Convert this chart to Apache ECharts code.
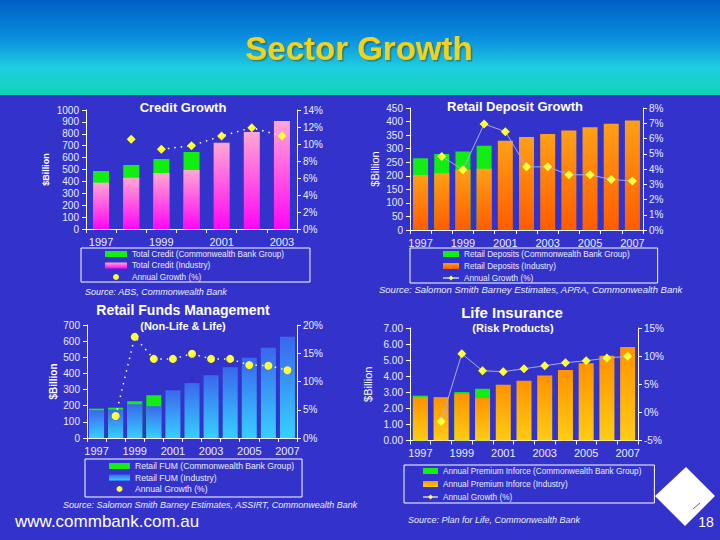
<!DOCTYPE html>
<html><head><meta charset="utf-8">
<script src="https://cdn.jsdelivr.net/npm/echarts@6/dist/echarts.min.js"></script>
<style>html,body{margin:0;padding:0;background:#3333cc}#c{width:720px;height:540px}</style>
</head><body><div id="c"></div>
<script>
// ---------- Credit Growth ----------
const creditYears = ['1997','1998','1999','2000','2001','2002','2003'];
const creditCBA = [487, 538, 588, 647, null, null, null];
const creditIndustry = [389, 431, 470, 496, 725, 815, 908];
const creditGrowth = [null, 10.55, 9.37, 9.8, 10.94, 11.92, 10.94];

// ---------- Retail Deposit Growth ----------
const depositYears = ['1997','1998','1999','2000','2001','2002','2003','2004','2005','2006','2007'];
const depositCBA = [265, 280, 290, 311, null, null, null, null, null, null, null];
const depositIndustry = [203, 210, 222, 226, 329, 343, 354, 367, 379, 392, 404];
const depositGrowth = [null, 4.82, 3.95, 6.95, 6.45, 4.14, 4.14, 3.62, 3.62, 3.31, 3.22];

// ---------- Retail Funds Management ----------
const fundsYears = ['1997','1998','1999','2000','2001','2002','2003','2004','2005','2006','2007'];
const fundsCBA = [182, 188, 228, 265, null, null, null, null, null, null, null];
const fundsIndustry = [172, 176, 209, 197, 296, 340, 389, 439, 497, 559, 627];
const fundsGrowth = [null, 3.9, 17.9, 14.0, 14.0, 14.9, 14.0, 14.0, 12.9, 12.8, 12.0];

// ---------- Life Insurance ----------
const lifeYears = ['1997','1998','1999','2000','2001','2002','2003','2004','2005','2006','2007'];
const lifeCBA = [2.79, null, 3.01, 3.22, null, null, null, null, null, null, null];
const lifeIndustry = [2.68, 2.70, 2.91, 2.64, 3.47, 3.72, 4.05, 4.39, 4.80, 5.28, 5.82];
const lifeGrowth = [null, -1.62, 10.43, 7.40, 7.23, 7.76, 8.29, 8.83, 9.18, 9.66, 9.96];

const FONT = '"Liberation Sans", Arial, sans-serif';
const LBL = '#ececff';
const GREEN = '#12ee12';
const YELLOW = '#ffff3a';
const vgrad = (top, bottom) => new echarts.graphic.LinearGradient(0, 0, 0, 1, [{offset: 0, color: top}, {offset: 1, color: bottom}]);

function xAx(grid, data) {
  return {
    type: 'category', gridIndex: grid, data: data,
    axisLine: {show: true, lineStyle: {color: '#ffffff', width: 1}},
    axisTick: {show: true, interval: 0, length: 4, lineStyle: {color: '#ffffff'}},
    axisLabel: {interval: 1, color: LBL, fontSize: 11, margin: 7, fontFamily: FONT},
    splitLine: {show: false}
  };
}
function yAx(grid, pos, min, max, interval, fmt, name, nameGap, nameBold, nameSize) {
  const o = {
    type: 'value', gridIndex: grid, position: pos, min: min, max: max, interval: interval,
    axisLine: {show: true, lineStyle: {color: '#ffffff', width: 1}},
    axisTick: {show: true, length: 4, lineStyle: {color: '#ffffff'}},
    axisLabel: {color: LBL, fontSize: 10, margin: pos === 'left' ? 7 : 6, formatter: fmt, fontFamily: FONT},
    splitLine: {show: false}
  };
  if (name) {
    o.name = name; o.nameLocation = 'middle'; o.nameGap = nameGap;
    o.nameTextStyle = {color: '#ffffff', fontSize: nameSize, fontWeight: nameBold ? 'bold' : 'normal', fontFamily: FONT};
  }
  return o;
}
function legendBox(left, top, names, icons, iw, padding, gap, fs) {
  return {
    left: left, top: top, orient: 'vertical', selectedMode: false,
    data: names.map((n, i) => icons[i] ? {name: n, icon: icons[i]} : {name: n}),
    itemWidth: iw, itemHeight: 6, itemGap: gap, padding: padding,
    borderColor: '#ffffff', borderWidth: 1, borderRadius: 0,
    textStyle: {color: LBL, fontSize: fs, lineHeight: 10, fontFamily: FONT, padding: [0, 0, 0, 0]},
    formatter: n => n.split('#')[0]
  };
}
function txt(x, y, text, size, opts) {
  return {type: 'text', x: x, y: y, style: Object.assign({text: text, fill: '#ffffff', font: size, align: 'center', verticalAlign: 'middle'}, opts || {})};
}
const plain = v => String(v);

const chart = echarts.init(document.getElementById('c'), null, {renderer: 'svg'});
const option = {
  backgroundColor: '#3333cc',
  animation: false,
  textStyle: {fontFamily: FONT},
  grid: [
    {left: 86, top: 110, width: 211, height: 119},
    {left: 410, top: 108, width: 233, height: 122},
    {left: 87, top: 325, width: 210, height: 113},
    {left: 410, top: 328, width: 228, height: 112.5}
  ],
  xAxis: [xAx(0, creditYears), xAx(1, depositYears), xAx(2, fundsYears), xAx(3, lifeYears)],
  yAxis: [
    yAx(0, 'left', 0, 1000, 100, plain, '$Billion', 36, true, 9),
    yAx(0, 'right', 0, 14, 2, '{value}%'),
    yAx(1, 'left', 0, 450, 50, plain, '$Billion', 30, false, 11),
    yAx(1, 'right', 0, 8, 1, '{value}%'),
    yAx(2, 'left', 0, 700, 100, plain, '$Billion', 29, true, 10),
    yAx(2, 'right', 0, 20, 5, '{value}%'),
    yAx(3, 'left', 0, 7, 1, v => v.toFixed(2), '$Billion', 37, false, 11),
    yAx(3, 'right', -5, 15, 5, '{value}%')
  ],
  legend: [
    legendBox(81, 248, ['Total Credit (Commonwealth Bank Group)', 'Total Credit (Industry)', 'Annual Growth (%)#c'],
      ['rect', 'rect', 'circle'], 22, [1, 26, 0, 24], 1.5, 8.2),
    legendBox(410, 248, ['Retail Deposits (Commonwealth Bank Group)', 'Retail Deposits (Industry)', 'Annual Growth (%)#d'],
      ['rect', 'rect', null], 16, [1, 28, 0, 32], 2, 8.2),
    legendBox(85, 459, ['Retail FUM (Commonwealth Bank Group)', 'Retail FUM (Industry)', 'Annual Growth (%)#f'],
      ['rect', 'rect', 'circle'], 21, [2, 8, 3, 24], 1.5, 8.6),
    legendBox(404, 465, ['Annual Premium Inforce (Commonwealth Bank Group)', 'Annual Premium Inforce (Industry)', 'Annual Growth (%)#l'],
      ['rect', 'rect', null], 15, [1, 13, 1, 18], 3, 8.2)
  ],
  series: [
    // Credit
    {name: 'Total Credit (Commonwealth Bank Group)', type: 'bar', xAxisIndex: 0, yAxisIndex: 0, data: creditCBA, barWidth: 16, barGap: '-100%', itemStyle: {color: GREEN}},
    {name: 'Total Credit (Industry)', type: 'bar', xAxisIndex: 0, yAxisIndex: 0, data: creditIndustry, barWidth: 16, barGap: '-100%', itemStyle: {color: vgrad('#ffa8d4', '#ff06f4')}},
    {name: 'credit-trend', type: 'line', xAxisIndex: 0, yAxisIndex: 1, data: creditGrowth.map((v, i) => i < 2 ? null : v), showSymbol: false,
      lineStyle: {color: '#ffffff', width: 1.5, type: [1.5, 5]}},
    {name: 'Annual Growth (%)#c', type: 'line', xAxisIndex: 0, yAxisIndex: 1, data: creditGrowth, symbol: 'diamond', symbolSize: 9,
      itemStyle: {color: YELLOW}, lineStyle: {width: 0, opacity: 0}},
    // Deposit
    {name: 'Retail Deposits (Commonwealth Bank Group)', type: 'bar', xAxisIndex: 1, yAxisIndex: 2, data: depositCBA, barWidth: 15, barGap: '-100%', itemStyle: {color: GREEN}},
    {name: 'Retail Deposits (Industry)', type: 'bar', xAxisIndex: 1, yAxisIndex: 2, data: depositIndustry, barWidth: 15, barGap: '-100%', itemStyle: {color: vgrad('#ffa016', '#ff5c00')}},
    {name: 'Annual Growth (%)#d', type: 'line', xAxisIndex: 1, yAxisIndex: 3, data: depositGrowth, symbol: 'diamond', symbolSize: 9,
      itemStyle: {color: YELLOW}, lineStyle: {color: '#a9a9f2', width: 1}},
    // Funds
    {name: 'Retail FUM (Commonwealth Bank Group)', type: 'bar', xAxisIndex: 2, yAxisIndex: 4, data: fundsCBA, barWidth: 15, barGap: '-100%', itemStyle: {color: GREEN}},
    {name: 'Retail FUM (Industry)', type: 'bar', xAxisIndex: 2, yAxisIndex: 4, data: fundsIndustry, barWidth: 15, barGap: '-100%', itemStyle: {color: vgrad('#3a66ee', '#36d0ff')}},
    {name: 'Annual Growth (%)#f', type: 'line', xAxisIndex: 2, yAxisIndex: 5, data: fundsGrowth, symbol: 'circle', symbolSize: 8,
      itemStyle: {color: YELLOW}, lineStyle: {color: '#ffffff', width: 1.5, type: [1.5, 5]}},
    // Life
    {name: 'Annual Premium Inforce (Commonwealth Bank Group)', type: 'bar', xAxisIndex: 3, yAxisIndex: 6, data: lifeCBA, barWidth: 15, barGap: '-100%', itemStyle: {color: GREEN}},
    {name: 'Annual Premium Inforce (Industry)', type: 'bar', xAxisIndex: 3, yAxisIndex: 6, data: lifeIndustry, barWidth: 15, barGap: '-100%', itemStyle: {color: vgrad('#ff9200', '#ffcc14')}},
    {name: 'Annual Growth (%)#l', type: 'line', xAxisIndex: 3, yAxisIndex: 7, data: lifeGrowth, symbol: 'diamond', symbolSize: 9,
      itemStyle: {color: YELLOW}, lineStyle: {color: '#a9a9f2', width: 1}}
  ],
  graphic: [
    {type: 'rect', shape: {x: 0, y: 0, width: 720, height: 95}, z: -10,
      style: {fill: new echarts.graphic.LinearGradient(0, 0, 0, 1, [
        {offset: 0, color: '#005ec6'}, {offset: 0.4, color: '#0a8ede'}, {offset: 0.72, color: '#1ecfe0'}, {offset: 1, color: '#10d4b2'}])}},
    txt(359, 48, 'Sector Growth', 'bold 33px ' + FONT, {fill: '#f4d21c', textShadowColor: 'rgba(60,60,0,0.45)', textShadowOffsetX: 1.5, textShadowOffsetY: 1.5, textShadowBlur: 1}),
    txt(183, 107, 'Credit Growth', 'bold 13px ' + FONT),
    txt(515, 106, 'Retail Deposit Growth', 'bold 13px ' + FONT),
    txt(183, 310, 'Retail Funds Management', 'bold 14px ' + FONT),
    txt(183, 326, '(Non-Life & Life)', 'bold 11px ' + FONT),
    txt(512, 312, 'Life Insurance', 'bold 15px ' + FONT),
    txt(513, 328, '(Risk Products)', 'bold 11px ' + FONT),
    txt(85, 292, 'Source: ABS, Commonwealth Bank', 'italic 9px ' + FONT, {align: 'left', fill: LBL}),
    txt(379, 289, 'Source: Salomon Smith Barney Estimates, APRA, Commonwealth Bank', 'italic 9.5px ' + FONT, {align: 'left', fill: LBL}),
    txt(63, 505, 'Source: Salomon Smith Barney Estimates, ASSIRT, Commonwealth Bank', 'italic 9px ' + FONT, {align: 'left', fill: LBL}),
    txt(408, 520, 'Source: Plan for Life, Commonwealth Bank', 'italic 9px ' + FONT, {align: 'left', fill: LBL}),
    txt(15, 521, 'www.commbank.com.au', '17px ' + FONT, {align: 'left'}),
    {type: 'polygon', shape: {points: [[686, 467], [715, 496], [685, 526], [655, 496]]}, style: {fill: '#ffffff'}},
    {type: 'line', shape: {x1: 693, y1: 509, x2: 700, y2: 503}, style: {stroke: '#666666', lineWidth: 1}},
    txt(706, 522, '18', '14px ' + FONT)
  ]
};
chart.setOption(option);
</script>
</body></html>
